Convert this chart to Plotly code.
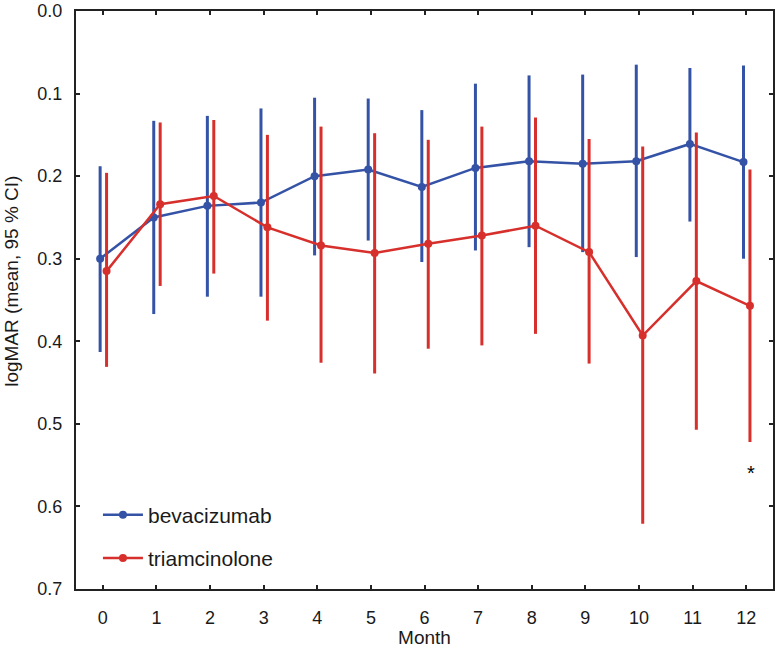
import numpy as np
import plotly.graph_objects as go

# ---------------------------------------------------------- data ----------------------------------------------------------#
months = [0, 1, 2, 3, 4, 5, 6, 7, 8, 9, 10, 11, 12]

beva_mean = [0.300, 0.250, 0.236, 0.232, 0.200, 0.192, 0.213, 0.190, 0.182, 0.185, 0.182, 0.161, 0.183]
beva_ci_low = [0.188, 0.133, 0.127, 0.118, 0.105, 0.106, 0.120, 0.088, 0.078, 0.077, 0.065, 0.069, 0.066]
beva_ci_high = [0.413, 0.367, 0.346, 0.346, 0.296, 0.278, 0.304, 0.290, 0.286, 0.292, 0.298, 0.255, 0.300]

tria_mean = [0.315, 0.234, 0.224, 0.262, 0.284, 0.293, 0.282, 0.272, 0.260, 0.292, 0.393, 0.327, 0.357]
tria_ci_low = [0.196, 0.135, 0.132, 0.150, 0.140, 0.148, 0.156, 0.140, 0.129, 0.155, 0.164, 0.147, 0.192]
tria_ci_high = [0.431, 0.333, 0.318, 0.375, 0.426, 0.439, 0.409, 0.405, 0.391, 0.427, 0.621, 0.507, 0.522]

# significance marker
star_month = 12
star_value = 0.55

y_ticks = [0.0, 0.1, 0.2, 0.3, 0.4, 0.5, 0.6, 0.7]
# ---------------------------------------------------------- data ----------------------------------------------------------#

BLUE = '#3553a6'
RED = '#d7302c'
FONT = 'Liberation Sans, Arial, sans-serif'


def ci_trace(name, x, mean, low, high, color):
    mean = np.array(mean)
    # y axis is reversed, "plus" goes down on screen
    return go.Scatter(
        x=x, y=mean, name=name, mode='lines+markers',
        line=dict(color=color, width=2.5),
        marker=dict(color=color, size=8),
        error_y=dict(
            type='data', symmetric=False,
            array=np.array(high) - mean,
            arrayminus=mean - np.array(low),
            color=color, thickness=3, width=0,
        ),
        legendgroup=name,
    )


x = np.array(months, dtype=float)
fig = go.Figure()
fig.add_trace(ci_trace('bevacizumab', x - 0.05, beva_mean, beva_ci_low, beva_ci_high, BLUE))
fig.add_trace(ci_trace('triamcinolone', x + 0.07, tria_mean, tria_ci_low, tria_ci_high, RED))

# '*' glyph sits high in its box, so anchor it below the point
fig.add_trace(go.Scatter(
    x=[star_month + 0.09], y=[star_value], mode='text', text=['*'], textposition='bottom center',
    textfont=dict(size=20, color='black', family=FONT), showlegend=False, hoverinfo='skip',
))

fig.update_layout(
    width=777, height=648,
    margin=dict(l=76, r=4, t=11, b=59),
    plot_bgcolor='white',
    paper_bgcolor='white',
    font=dict(family=FONT, size=18, color='#1a1a1a'),
    legend=dict(
        x=0.0315, y=0.018, xanchor='left', yanchor='bottom',
        font=dict(size=21, color='#1a1a1a'),
        bgcolor='rgba(0,0,0,0)',
        tracegroupgap=13,
        itemwidth=40,
    ),
    # y title as an annotation so it can sit a bit above the axis middle like the original
    annotations=[dict(
        text='logMAR (mean, 95 % CI)', textangle=-90,
        xref='paper', yref='paper', x=-0.092, y=0.533,
        xanchor='center', yanchor='middle', showarrow=False,
        font=dict(size=19, color='#1a1a1a'),
    )],
)
fig.update_xaxes(
    range=[-0.5, 12.5], automargin=False,
    tickmode='array', tickvals=months, ticktext=[str(m) for m in months],
    ticks='inside', ticklen=4, tickwidth=1.5, tickcolor='#222',
    showline=True, linecolor='#222', linewidth=2, mirror='ticks',
    showgrid=False, zeroline=False,
    ticklabelstandoff=11,
    title=dict(text='Month', font=dict(size=19), standoff=0),
)
fig.update_yaxes(
    range=[0.7, 0.0], automargin=False,
    tickmode='array', tickvals=y_ticks, ticktext=[f'{t:.1f}' for t in y_ticks],
    ticks='inside', ticklen=4, tickwidth=1.5, tickcolor='#222',
    showline=True, linecolor='#222', linewidth=2, mirror='ticks',
    showgrid=False, zeroline=False,
    ticklabelstandoff=8,
)

# drop the default 8px body margin so the 777x648 figure sits at the window corner
fig.write_html("out.html", config={'displayModeBar': False},
               post_script="document.body.style.margin='0';")
